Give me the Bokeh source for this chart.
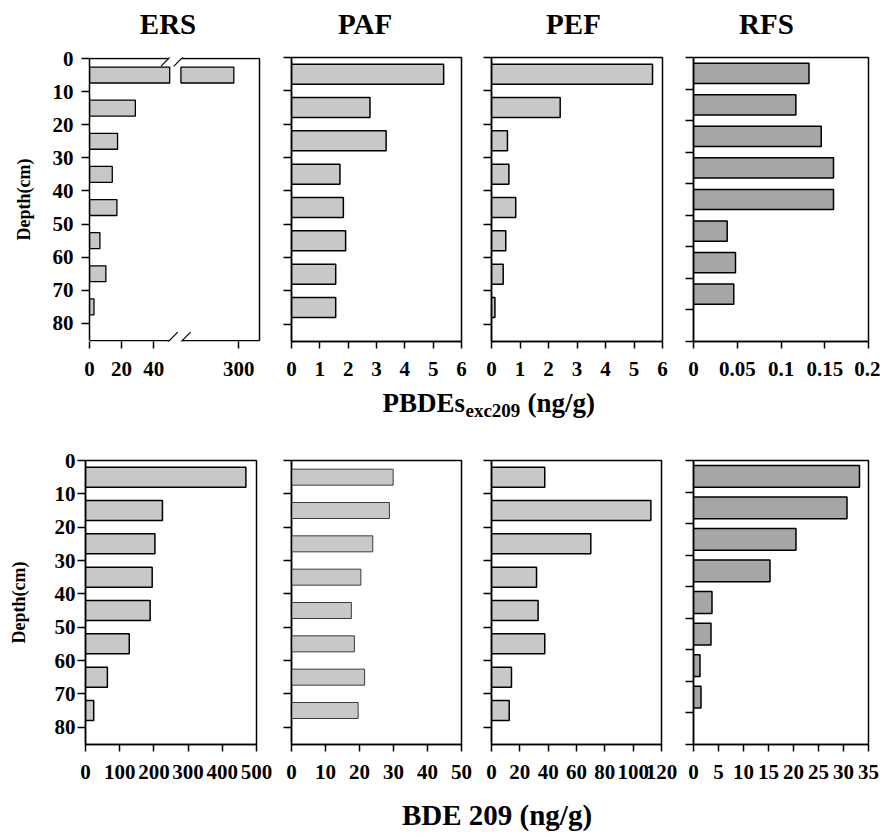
from bokeh.plotting import figure
from bokeh.layouts import column, row
from bokeh.models import Range1d, FixedTicker
from bokeh.core.properties import value
from bokeh.embed import file_html
from bokeh.resources import INLINE

# ---------------- data ----------------
SITES = ["ERS", "PAF", "PEF", "RFS"]
DEPTH = [5, 15, 25, 35, 45, 55, 65, 75]          # mid-depth of each 10 cm slice
DEPTH_TICKS = [0, 10, 20, 30, 40, 50, 60, 70, 80]
DEPTH_TICKS_RFS = [0, 10, 20, 30, 40, 50, 60, 70, 80, 90]

# PBDEs excluding BDE 209 (ng/g)
ERS_PBDE = [297, 28.6, 17.5, 14.2, 17.1, 6.5, 10.2, 2.8]
PAF_PBDE = [5.37, 2.77, 3.34, 1.71, 1.83, 1.91, 1.56, 1.56]
PEF_PBDE = [5.65, 2.41, 0.56, 0.61, 0.85, 0.50, 0.41, 0.12]
RFS_PBDE = [0.132, 0.117, 0.146, 0.160, 0.160, 0.0385, 0.048, 0.046]

# BDE 209 (ng/g)
ERS_209 = [469, 225, 203, 195, 189, 128, 64, 24]
PAF_209 = [29.9, 28.8, 23.9, 20.4, 17.6, 18.5, 21.5, 19.6]
PEF_209 = [37.6, 112.5, 70.1, 31.8, 32.9, 37.6, 14.1, 12.5]
RFS_209 = [33.2, 30.7, 20.5, 15.3, 3.7, 3.5, 1.3, 1.5]

# x tick values
ERS_PBDE_TICKS = [0, 20, 40, 300]
PAF_PBDE_TICKS = [0, 1, 2, 3, 4, 5, 6]
PEF_PBDE_TICKS = [0, 1, 2, 3, 4, 5, 6]
RFS_PBDE_TICKS = [0, 0.05, 0.1, 0.15, 0.2]
ERS_209_TICKS = [0, 100, 200, 300, 400, 500]
PAF_209_TICKS = [0, 10, 20, 30, 40, 50]
PEF_209_TICKS = [0, 20, 40, 60, 80, 100, 120]
RFS_209_TICKS = [0, 5, 10, 15, 20, 25, 30, 35]

# broken x-axis of the ERS PBDE panel
BREAK_LO = 50
BREAK_HI = 264
GAP = 7
ERS_PBDE_XMAX = 313


def brk(v):
    return v if v <= BREAK_LO else v - BREAK_HI + BREAK_LO + GAP


# ---------------- style ----------------
FONT = "Liberation Serif"
LIGHT = "#c8c8c8"
DARK = "#a6a6a6"
TICK_FS = "21px"
YMAX = 85.2


def style_axes(p, xticks, xlabels, show_ylabels, yticks, ylab=None,
               ystandoff=6, xstandoff=13, lab_standoff=14):
    p.grid.visible = False
    p.outline_line_color = "black"
    p.outline_line_width = 1.5
    xa = p.xaxis[0]
    xa.ticker = FixedTicker(ticks=list(xticks))
    xa.major_label_overrides = {t: s for t, s in zip(xticks, xlabels)}
    ya = p.yaxis[0]
    ya.ticker = FixedTicker(ticks=list(yticks))
    for ax in (xa, ya):
        ax.minor_tick_line_color = None
        ax.major_tick_in = 0
        ax.major_tick_out = 8
        ax.axis_line_width = 1.5
        ax.axis_line_color = "black"
        ax.major_tick_line_width = 1.5
        ax.major_tick_line_color = "black"
        ax.major_label_text_font = FONT
        ax.major_label_text_font_style = "bold"
        ax.major_label_text_font_size = TICK_FS
        ax.major_label_text_color = "black"
    xa.major_tick_out = 7
    xa.major_label_standoff = xstandoff
    ya.major_label_standoff = ystandoff
    if not show_ylabels:
        ya.major_label_overrides = {t: "" for t in yticks}
        ya.major_label_standoff = 0
    if ylab:
        ya.axis_label = ylab
        ya.axis_label_text_font = FONT
        ya.axis_label_text_font_style = "bold"
        ya.axis_label_text_font_size = "18px"
        ya.axis_label_text_color = "black"
        ya.axis_label_standoff = lab_standoff
    return xa, ya


def panel(width, height, bl, br, bt, bb, xmin, xmax, ymin, ymax):
    p = figure(width=width, height=height,
               x_range=Range1d(xmin, xmax), y_range=Range1d(ymax, ymin),
               output_backend="svg", toolbar_location=None,
               min_border_left=bl, min_border_right=br,
               min_border_top=bt, min_border_bottom=bb,
               background_fill_color="white", border_fill_color="white")
    return p


def text_fig(w, h):
    p = figure(width=w, height=h, x_range=Range1d(0, w), y_range=Range1d(h, 0),
               output_backend="svg", toolbar_location=None, min_border=0,
               x_axis_location=None, y_axis_location=None,
               outline_line_color=None,
               background_fill_color="white", border_fill_color="white")
    p.grid.visible = False
    p.xgrid.visible = False
    p.ygrid.visible = False
    return p


WIDTHS = [276, 202, 207, 195]

# ---------------- header (site titles) ----------------
header = text_fig(sum(WIDTHS), 46)
TITLE_X = [167.5, 364.5, 573, 766]
header.text(x=TITLE_X, y=[23] * 4, text=SITES, text_align="center",
            text_baseline="alphabetic", text_font=value(FONT),
            text_font_style="bold", text_font_size="29px", text_color="black")

# ---------------- top row: PBDEs exc209 ----------------
TH = 341
# ERS panel with broken x-axis: the box is drawn with segments so that it can
# be interrupted at the break
XVIS = brk(ERS_PBDE_XMAX)
t1 = panel(WIDTHS[0], TH, 89, 15, 11, 46, 0, XVIS + 1.25, -0.3, YMAX + 0.25)
lefts, rights, ys = [], [], []
for y, v in zip(DEPTH, ERS_PBDE):
    if v > BREAK_HI:
        lefts += [0, BREAK_LO + GAP]
        rights += [BREAK_LO, brk(v)]
        ys += [y, y]
    else:
        lefts.append(0)
        rights.append(v)
        ys.append(y)
t1.hbar(y=ys, left=lefts, right=rights, height=4.8, fill_color=LIGHT,
        line_color="black", line_width=1.3)
xa1, ya1 = style_axes(t1, [brk(t) for t in ERS_PBDE_TICKS],
                      [str(t) for t in ERS_PBDE_TICKS],
                      True, DEPTH_TICKS, ylab="Depth(cm)", ystandoff=8,
                      lab_standoff=16)
t1.outline_line_color = None
ya1.bounds = (0, YMAX)
xa1.axis_line_color = None
TOP_CUT = (49.35, 57.35)
BOT_CUT = (49.75, 57.75)
t1.segment(x0=[0, TOP_CUT[1], 0, BOT_CUT[1], XVIS],
           y0=[0, 0, YMAX, YMAX, 0],
           x1=[TOP_CUT[0], XVIS, BOT_CUT[0], XVIS, XVIS],
           y1=[0, 0, YMAX, YMAX, YMAX],
           line_color="black", line_width=1.5)
# break marks "//"
t1.segment(x0=[44.5, 52.5, 47.33, 55.33], y0=[2.4, 2.4, 86.4, 86.4],
           x1=[55.0, 63.0, 55.0, 63.0], y1=[-2.8, -2.8, 82.6, 82.6],
           line_color="black", line_width=1.2)

t2 = panel(WIDTHS[1], TH, 15, 17, 11, 46, 0, PAF_PBDE_TICKS[-1], 0, YMAX)
t2.hbar(y=DEPTH, right=PAF_PBDE, height=6, fill_color=LIGHT, line_color="black",
        line_width=1.5)
style_axes(t2, PAF_PBDE_TICKS, [str(t) for t in PAF_PBDE_TICKS], False, DEPTH_TICKS)

t3 = panel(WIDTHS[2], TH, 13, 23, 11, 46, 0, PEF_PBDE_TICKS[-1], 0, YMAX)
t3.hbar(y=DEPTH, right=PEF_PBDE, height=6, fill_color=LIGHT, line_color="black",
        line_width=1.5)
style_axes(t3, PEF_PBDE_TICKS, [str(t) for t in PEF_PBDE_TICKS], False, DEPTH_TICKS)

t4 = panel(WIDTHS[3], TH, 8, 12, 11, 46, 0, RFS_PBDE_TICKS[-1], 0, 90)
t4.hbar(y=DEPTH, right=RFS_PBDE, height=6.4, fill_color=DARK, line_color="black",
        line_width=1.5)
style_axes(t4, RFS_PBDE_TICKS, [f"{t:g}" for t in RFS_PBDE_TICKS], False, DEPTH_TICKS_RFS)

# ---------------- x label 1 ----------------
lab1 = text_fig(sum(WIDTHS), 56)
lab1.text(x=[382, 527], y=[15, 15], text=["PBDEs", "(ng/g)"], text_align="left",
          text_baseline="alphabetic", text_font=value(FONT), text_font_style="bold",
          text_font_size="27px", text_color="black")
lab1.text(x=[465], y=[23], text=["exc209"], text_align="left",
          text_baseline="alphabetic", text_font=value(FONT), text_font_style="bold",
          text_font_size="19px", text_color="black")

# ---------------- bottom row: BDE 209 ----------------
BH = 345
b1 = panel(WIDTHS[0], BH, 85, 20, 17, 44, 0, ERS_209_TICKS[-1], 0, YMAX)
b1.hbar(y=DEPTH, right=ERS_209, height=6, fill_color=LIGHT, line_color="black",
        line_width=1.5)
style_axes(b1, ERS_209_TICKS, [str(t) for t in ERS_209_TICKS], True, DEPTH_TICKS,
           ylab="Depth(cm)", ystandoff=2, lab_standoff=23)

b2 = panel(WIDTHS[1], BH, 15, 17, 17, 44, 0, PAF_209_TICKS[-1], 0, YMAX)
b2.hbar(y=DEPTH, right=PAF_209, height=4.8, fill_color=LIGHT, line_color="#3a3a3a",
        line_width=1)
style_axes(b2, PAF_209_TICKS, [str(t) for t in PAF_209_TICKS], False, DEPTH_TICKS)

b3 = panel(WIDTHS[2], BH, 13, 24, 17, 44, 0, PEF_209_TICKS[-1], 0, YMAX)
b3.hbar(y=DEPTH, right=PEF_209, height=6, fill_color=LIGHT, line_color="black",
        line_width=1.5)
style_axes(b3, PEF_209_TICKS, [str(t) for t in PEF_209_TICKS], False, DEPTH_TICKS)

b4 = panel(WIDTHS[3], BH, 8, 12, 17, 44, 0, RFS_209_TICKS[-1], 0, 90)
b4.hbar(y=DEPTH, right=RFS_209, height=6.9, fill_color=DARK, line_color="black",
        line_width=1.5)
style_axes(b4, RFS_209_TICKS, [str(t) for t in RFS_209_TICKS], False, DEPTH_TICKS_RFS)

# ---------------- x label 2 ----------------
lab2 = text_fig(sum(WIDTHS), 48)
lab2.text(x=[496.5], y=[26], text=["BDE 209 (ng/g)"], text_align="center",
          text_baseline="alphabetic", text_font=value(FONT), text_font_style="bold",
          text_font_size="29px", text_color="black")

layout = column(header, row(t1, t2, t3, t4), lab1, row(b1, b2, b3, b4), lab2)

with open("out.html", "w") as f:
    f.write(file_html(layout, INLINE))
